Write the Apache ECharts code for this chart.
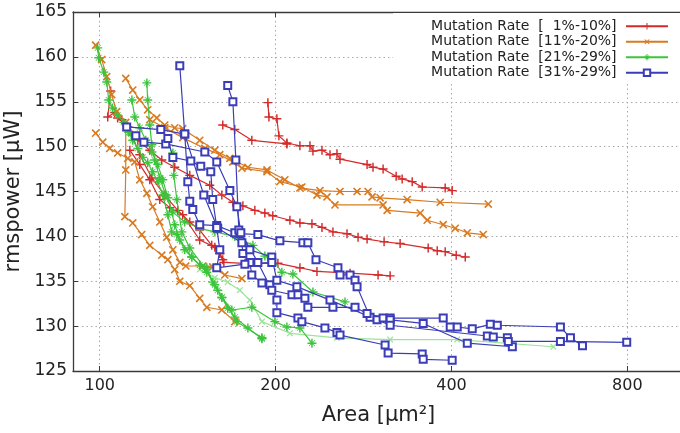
<!DOCTYPE html>
<html>
<head>
<meta charset="utf-8">
<script src="https://cdn.jsdelivr.net/npm/echarts@6/dist/echarts.min.js"></script>
<style>
  html, body { margin: 0; padding: 0; background: #fff; }
  #chart { width: 680px; height: 433px; }
</style>
</head>
<body>
<div id="chart"></div>
<script>
// Legend labels, one per mutation-rate group
const groupNames = [
  'Mutation Rate  [  1%-10%]',
  'Mutation Rate  [11%-20%]',
  'Mutation Rate  [21%-29%]',
  'Mutation Rate  [31%-29%]'
];

// Tick labels on the (log-scaled) area axis
const areaTickLabels = [100, 200, 400, 800];

// Each run: list of [area (µm²), rmspower (µW)]
const rate1to10Runs = [
  [[194.0,154.9],[194.8,153.3],[201.0,153.1],[202.6,151.2],[209.1,150.4],[220.1,150.1],[229.0,150.1],[231.7,149.5],[240.1,149.6],[247.8,149.1],[254.7,149.2],[257.8,148.6],[286.8,148.0],[293.6,147.7],[305.5,147.5],[321.6,146.7],[329.3,146.4],[342.6,146.1],[356.4,145.5],[390.2,145.4],[401.1,145.1]],
  [[162.4,152.4],[170.3,151.9],[182.1,150.7],[209.1,150.3]],
  [[107.3,153.2],[111.7,152.2],[116.2,150.7],[121.8,149.6],[127.7,148.5],[134.4,147.7],[142.6,146.8],[154.3,145.7],[161.8,144.6],[169.0,143.8],[175.8,143.4],[184.3,142.9],[191.7,142.6],[197.8,142.3],[211.6,141.8],[220.1,141.5],[230.8,141.4],[240.1,141.0],[250.7,140.5],[265.0,140.3],[276.8,139.9],[286.8,139.7],[306.7,139.4],[326.7,139.2],[364.9,138.7],[378.1,138.4],[390.2,138.3],[407.5,137.9],[422.3,137.7]],
  [[104.4,156.2],[103.2,153.3],[106.1,153.8],[109.1,153.0],[113.5,151.3],[117.1,149.1],[122.8,146.5],[129.2,144.6],[136.0,142.9],[142.6,141.6],[148.3,140.7],[155.5,139.0],[160.5,138.1],[163.1,137.1],[177.2,137.0],[201.8,137.0],[220.1,136.5],[235.4,136.1],[268.2,135.9],[299.5,135.7],[314.1,135.6]],
  [[112.6,149.6],[117.1,148.0],[121.8,146.3],[126.7,144.1],[131.8,143.2],[138.7,142.4],[148.3,139.6],[157.4,138.8],[160.5,138.1],[162.4,137.4]]
];

const rate11to20Runs = [
  [[110.8,157.6],[113.9,156.3],[117.1,155.2],[120.8,154.1],[125.2,153.2],[129.2,152.4],[134.4,152.1],[138.7,152.0],[148.3,150.7],[157.4,149.6],[167.0,148.7],[179.3,147.7],[193.3,147.4],[207.4,146.3],[220.1,145.4],[238.2,145.1],[257.8,145.0],[275.7,145.0],[287.9,145.0],[292.5,144.4],[301.9,144.3],[335.9,144.1],[382.6,143.8],[462.4,143.6]],
  [[121.8,153.0],[129.2,152.1],[138.7,151.0],[151.3,149.8],[160.5,149.1],[169.0,148.3],[175.1,147.6],[193.3,147.2],[203.4,146.1],[221.8,145.5],[235.4,144.6],[244.9,144.4],[252.7,143.5],[305.5,143.5],[310.4,142.9],[353.6,142.6],[363.5,141.8],[387.2,141.3],[405.9,140.9],[425.7,140.4],[453.4,140.2]],
  [[98.4,161.3],[100.8,159.7],[102.8,157.8],[104.8,155.8],[106.9,153.9],[110.8,152.7],[110.8,147.4],[110.4,142.2],[113.9,141.5],[118.0,140.2],[121.8,139.0],[127.7,137.9],[130.8,137.4],[134.4,136.3],[137.1,135.0],[142.6,134.5],[148.3,133.1],[152.5,132.1],[161.8,131.8],[170.3,130.5]],
  [[98.4,151.5],[101.2,150.5],[104.0,149.8],[107.3,149.3],[111.7,148.7],[114.8,148.3],[117.1,146.3],[120.4,144.8],[123.2,143.3],[126.7,141.6],[130.2,139.9],[133.4,138.5],[137.1,137.1],[140.4,136.7],[150.1,136.7],[156.1,136.6],[163.7,135.7],[175.1,135.3]]
];

const rate21to29Runs = [
  [[99.2,161.0],[99.6,159.9],[101.6,158.3],[102.8,157.2],[103.6,155.2],[105.2,154.3],[107.3,153.5],[109.9,152.7],[112.1,151.6],[113.9,150.7],[116.2,149.8],[118.5,148.8],[120.8,148.2],[123.2,147.2],[125.7,146.1],[128.2,144.6],[130.8,142.4],[132.8,140.5],[135.5,140.2],[139.8,138.5],[143.7,137.7],[148.3,136.8],[152.5,136.5],[156.1,134.9],[161.8,133.2],[165.6,132.0],[170.3,131.0],[179.3,129.8],[189.5,128.6]],
  [[120.4,157.1],[120.8,155.2],[121.8,152.4],[122.8,150.2],[124.2,148.5],[126.7,146.5],[129.7,144.6],[133.4,142.7],[139.8,141.6],[148.3,140.9],[157.4,140.5],[170.3,140.0],[182.9,139.0],[191.7,137.8],[197.0,137.6],[205.0,136.0],[214.1,135.8],[231.7,133.8],[262.9,132.7]],
  [[113.5,155.2],[114.8,153.3],[117.1,152.1],[119.9,150.7],[122.8,149.4],[125.7,148.0],[128.2,146.3],[130.8,144.3],[134.4,141.3],[137.1,139.6],[143.7,137.7],[152.5,136.0],[157.4,134.6],[161.8,133.2],[168.3,131.8],[182.1,132.1],[199.4,130.5],[209.1,129.9],[220.1,129.8],[230.8,128.1]],
  [[133.4,149.3],[133.9,146.8],[135.5,144.1],[138.2,140.5],[142.6,138.7],[151.3,136.5],[159.2,134.0],[171.7,130.5],[189.5,128.7]]
];

// Faint run of the 21%-29% group (no legend entry)
const rate21to29FaintRun = [[148.3,136.3],[157.4,135.4],[165.6,134.9],[173.7,134.0],[180.7,132.9],[189.5,130.5],[211.6,129.2],[254.7,128.7],[314.1,128.5],[409.2,128.5],[597.7,127.7]];

const rate31to29Runs = [
  [[137.1,159.0],[139.8,151.4],[141.5,146.1],[142.6,143.9],[144.3,143.0],[148.3,141.3],[158.6,141.2],[170.3,140.4],[173.7,140.3],[186.5,140.2],[203.4,139.5],[222.7,139.3],[227.1,139.3],[234.5,137.4],[255.7,136.5],[257.8,135.7],[268.2,135.7],[273.5,135.1],[275.7,134.4],[290.2,131.0],[298.3,130.7],[305.5,130.9],[314.1,130.9],[387.2,130.9],[398.0,129.9],[409.2,129.9],[434.1,129.7],[466.1,130.2],[479.2,130.1],[614.5,129.9],[639.3,128.7],[670.3,127.8]],
  [[111.2,152.2],[127.2,151.9],[139.8,151.4],[150.7,144.6],[159.2,140.9],[175.1,139.3],[175.8,138.1],[180.7,137.1],[182.1,135.7],[189.5,134.8],[195.5,134.6],[197.0,134.0],[213.3,133.5],[218.4,133.5],[224.5,133.1],[227.1,132.1],[250.7,132.1],[273.5,132.1],[286.8,131.4],[314.1,130.7],[357.8,130.3],[425.7,128.1],[508.4,127.7]],
  [[165.6,156.8],[169.0,155.0],[171.0,148.5],[173.0,140.7],[180.7,138.5],[197.0,137.7],[201.0,135.1],[217.5,134.4],[247.8,132.9],[314.1,130.1],[460.7,128.9],[471.6,128.8],[498.5,128.7],[500.4,128.3],[614.5,128.3],[798.0,128.2]],
  [[115.3,151.2],[119.0,150.5],[129.7,150.3],[151.3,149.4],[158.6,148.3],[167.0,145.1],[171.7,143.3],[174.4,140.4],[186.5,137.1],[201.0,132.9],[201.0,131.5],[218.4,130.9],[221.8,130.5],[242.9,129.8],[254.7,129.3],[257.8,129.0],[307.9,127.9],[311.6,127.0],[356.4,126.9],[357.8,126.3],[401.1,126.2]],
  [[130.8,150.9],[133.4,148.8],[143.2,148.4],[148.9,147.8],[154.9,147.2],[156.1,144.1],[158.6,141.0],[160.5,138.5],[158.6,136.5],[177.2,136.9],[197.0,137.1]]
];

const FONT = 'DejaVu Sans';
const AREA_MIN = 90, AREA_MAX = 1024;

// Marker shapes (10x10 boxes, filled)
const PLUS = 'path://M4.2,0H5.8V4.2H10V5.8H5.8V10H4.2V5.8H0V4.2H4.2Z';
const STAR = 'path://M0,4.2H10V5.8H0Z M4.2,0H5.8V10H4.2Z M2.03,1.46L8.54,7.97L7.97,8.54L1.46,2.03Z M7.97,1.46L8.54,2.03L2.03,8.54L1.46,7.97Z';

const groups = [
  { name: groupNames[0], runs: rate1to10Runs, color: '#d42a2a', symbol: PLUS, rotate: 0, size: 9 },
  { name: groupNames[1], runs: rate11to20Runs, color: '#d97a20', symbol: PLUS, rotate: 45, size: 10 },
  { name: groupNames[2], runs: rate21to29Runs, color: '#3cc43c', symbol: STAR, rotate: 0, size: 9 },
  { name: groupNames[3], runs: rate31to29Runs, color: '#3b3db8', symbol: 'emptyRect', rotate: 0, size: 7 }
];

function lineSeries(name, data, color, symbol, rotate, size, z) {
  return {
    type: 'line',
    name: name,
    data: data,
    xAxisIndex: 0,
    yAxisIndex: 0,
    symbol: symbol,
    symbolSize: size,
    symbolRotate: rotate,
    showAllSymbol: true,
    lineStyle: { color: color, width: 1.2 },
    itemStyle: { color: color, borderColor: color, borderWidth: symbol === 'emptyRect' ? 1.1 : 0 },
    emphasis: { disabled: true },
    silent: true,
    z: z
  };
}

const series = [];
groups.slice(0, 3).forEach((g, gi) => {
  g.runs.forEach(run => series.push(lineSeries(g.name, run, g.color, g.symbol, g.rotate, g.size, 2 + gi)));
});
series.push(lineSeries('faint 21%-29%', rate21to29FaintRun, '#9be49b', PLUS, 45, 8, 2));
groups[3].runs.forEach(run => series.push(lineSeries(groups[3].name, run, groups[3].color, groups[3].symbol, 0, groups[3].size, 6)));

const axisColor = '#3a3a3a';
const gridLine = { show: true, lineStyle: { color: '#a8a8a8', type: [1.5, 3], width: 1 } };
const logMin = Math.log2(AREA_MIN / 100), logMax = Math.log2(AREA_MAX / 100);

function areaLabel(v) {
  const a = Math.round(100 * Math.pow(2, v));
  return areaTickLabels.indexOf(a) >= 0 ? String(a) : '';
}

const chart = echarts.init(document.getElementById('chart'), null, { renderer: 'canvas' });
chart.setOption({
  animation: false,
  backgroundColor: '#fff',
  grid: { left: 73, top: 12, width: 617, height: 359, containLabel: false, outerBoundsMode: 'none' },
  legend: {
    data: groupNames,
    orient: 'vertical',
    align: 'right',
    right: 0,
    top: 13,
    padding: [6, 11, 4, 38],
    backgroundColor: '#fff',
    itemWidth: 42,
    itemHeight: 8,
    itemGap: 1,
    formatter: n => n + ' ',
    textStyle: { fontFamily: FONT, fontSize: 14, color: '#222', lineHeight: 14.5 },
    selectedMode: false
  },
  xAxis: [
    { type: 'log', logBase: 2, min: AREA_MIN, max: AREA_MAX, show: false },
    {
      type: 'value', position: 'bottom', min: logMin, max: logMax,
      splitNumber: 3, minInterval: 1, maxInterval: 1,
      axisLine: { show: true, onZero: false, lineStyle: { color: axisColor, width: 1.3 } },
      axisTick: { show: true, inside: true, length: 5, lineStyle: { color: axisColor } },
      axisLabel: { formatter: areaLabel, fontFamily: FONT, fontSize: 16, color: '#222', margin: 7 },
      splitLine: gridLine,
      name: 'Area [µm²]', nameLocation: 'middle', nameGap: 34,
      nameTextStyle: { fontFamily: FONT, fontSize: 21, color: '#222', padding: [0, 6, 0, 0] }
    },
    {
      type: 'value', position: 'top', min: logMin, max: logMax,
      splitNumber: 3, minInterval: 1, maxInterval: 1,
      axisLine: { show: true, onZero: false, lineStyle: { color: axisColor, width: 1.3 } },
      axisTick: { show: true, inside: true, length: 5, lineStyle: { color: axisColor } },
      axisLabel: { show: false },
      splitLine: { show: false }
    }
  ],
  yAxis: [{
    type: 'value', min: 125, max: 165, interval: 5,
    axisLine: { show: true, onZero: false, lineStyle: { color: axisColor, width: 1.3 } },
    axisTick: { show: true, inside: true, length: 5, lineStyle: { color: axisColor } },
    axisLabel: { fontFamily: FONT, fontSize: 17, color: '#222', margin: 6 },
    splitLine: gridLine,
    name: 'rmspower [µW]', nameLocation: 'middle', nameGap: 45,
    nameTextStyle: { fontFamily: FONT, fontSize: 21, color: '#222' }
  }],
  series: series
});
</script>
</body>
</html>
